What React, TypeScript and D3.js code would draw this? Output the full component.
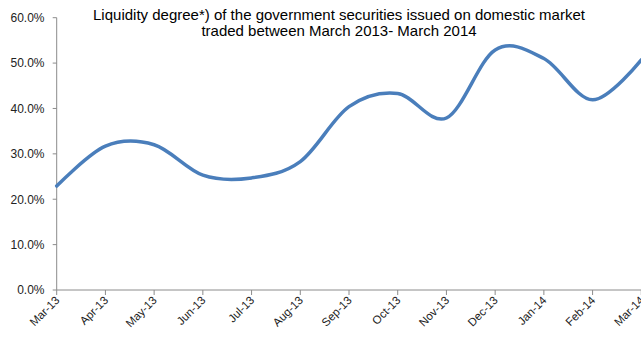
import React from "react";
import * as d3 from "d3";

const months = ["Mar-13","Apr-13","May-13","Jun-13","Jul-13","Aug-13","Sep-13","Oct-13","Nov-13","Dec-13","Jan-14","Feb-14","Mar-14"];
const liquidity = [22.9, 31.7, 32.0, 25.3, 24.7, 28.3, 40.4, 43.3, 37.9, 52.9, 51.0, 41.9, 50.7];
const yTicks = [0, 10, 20, 30, 40, 50, 60];
const titleLines = [
  "Liquidity degree*) of the government securities issued on domestic market",
  "traded between March 2013- March 2014",
];

const W = 641, H = 337;
const left = 56.7, right = 641.3, top = 17.7, bottom = 290;

export default function App() {
  const x = d3.scalePoint<string>().domain(months).range([left, right]);
  const y = d3.scaleLinear().domain([0, 60]).range([bottom, top]);
  const line = d3
    .line<number>()
    .x((_, i) => x(months[i]) as number)
    .y((d) => y(d))
    .curve(d3.curveCardinal.tension(0));
  const font = "'Liberation Sans', Arial, sans-serif";
  const axisColor = "#8c8c8c";
  return (
    <svg width={W} height={H} style={{ position: "absolute", left: 0, top: 0, background: "#fff" }} fontFamily={font}>
      {titleLines.map((t, i) => (
        <text key={i} x={339} y={20 + i * 16} textAnchor="middle" fontSize={15} fill="#000">
          {t}
        </text>
      ))}
      <line x1={left} x2={left} y1={top} y2={bottom} stroke={axisColor} strokeWidth={1} />
      <line x1={left} x2={right} y1={bottom} y2={bottom} stroke={axisColor} strokeWidth={1} />
      {yTicks.map((t) => (
        <g key={t}>
          <line x1={left - 4} x2={left} y1={y(t)} y2={y(t)} stroke={axisColor} />
          <text x={44.5} y={y(t) + 4.3} textAnchor="end" fontSize={12} fill="#222">
            {t.toFixed(1)}%
          </text>
        </g>
      ))}
      {months.map((m) => {
        const xx = x(m) as number;
        return (
          <g key={m}>
            <line x1={xx} x2={xx} y1={bottom} y2={bottom + 5} stroke={axisColor} />
            <text
              transform={`translate(${xx + 3.5},${bottom + 11}) rotate(-45)`}
              textAnchor="end"
              fontSize={11.5}
              fill="#222"
            >
              {m}
            </text>
          </g>
        );
      })}
      <path d={line(liquidity) || ""} fill="none" stroke="#4a7ebb" strokeWidth={3.5} strokeLinecap="round" />
    </svg>
  );
}
